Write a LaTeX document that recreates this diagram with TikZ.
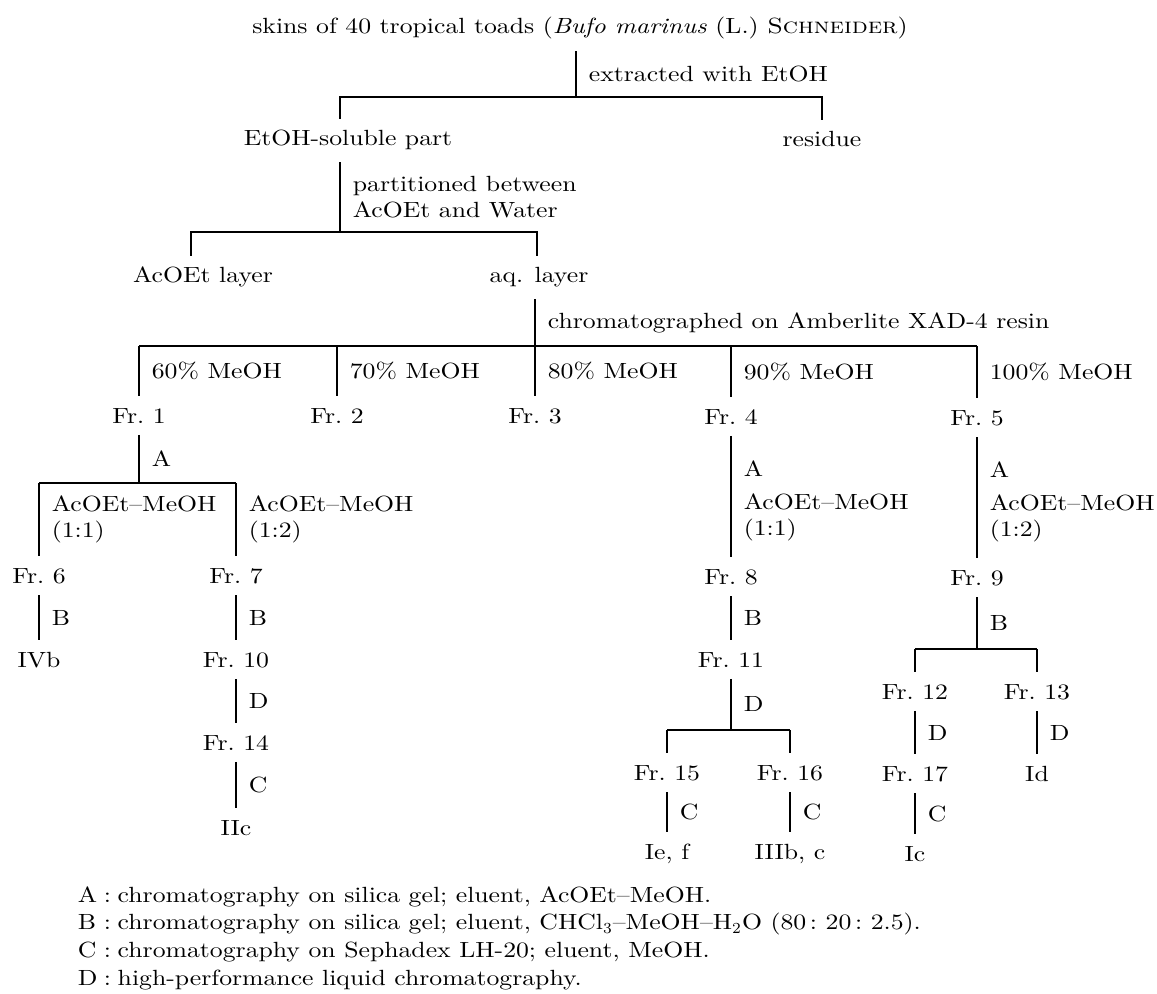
\documentclass[tikz,border=0pt]{standalone}
\usepackage{fontspec}
\setmainfont{lmroman10-regular.otf}[
    FakeStretch=1.17,
    ItalicFont=lmroman10-italic.otf,
    BoldFont=lmroman10-bold.otf,
    SmallCapsFont=lmromancaps10-regular.otf]
\begin{document}
\begin{tikzpicture}[x=0.455pt, y=-0.455pt, line width=0.7pt,
        every node/.style={inner xsep=0pt, inner ysep=5pt},
        txt/.style={anchor=base},
        lab/.style={anchor=west, xshift=5.5pt, inner ysep=0pt, align=left}] %Separación de las pieles
            \useasboundingbox (0,0) rectangle (1157,994);

            \node[txt] (title) at (580,34) {skins of 40 tropical toads (\textit{Bufo marinus} (L.) \textsc{Schneider})};
            \node[txt] (etoh) at (348,146) {EtOH-soluble part};
            \node[txt] (residue) at (822,147) {residue};
            \node[txt] (acoet) at (203,283) {AcOEt layer};
            \node[txt] (aq) at (539,283) {aq. layer};

            \node[txt] (fr1) at (139,423) {Fr.\ 1};
            \node[txt] (fr2) at (337,423) {Fr.\ 2};
            \node[txt] (fr3) at (535,423) {Fr.\ 3};
            \node[txt] (fr4) at (731,424) {Fr.\ 4};
            \node[txt] (fr5) at (977,425) {Fr.\ 5};
            \node[txt] (fr6) at (39,583) {Fr.\ 6};
            \node[txt] (fr7) at (236,583) {Fr.\ 7};
            \node[txt] (fr8) at (731,584) {Fr.\ 8};
            \node[txt] (fr9) at (977,585) {Fr.\ 9};
            \node[txt] (ivb) at (39,667) {IVb};
            \node[txt] (fr10) at (236,667) {Fr.\ 10};
            \node[txt] (fr11) at (731,667) {Fr.\ 11};
            \node[txt] (fr12) at (915,699) {Fr.\ 12};
            \node[txt] (fr13) at (1037,699) {Fr.\ 13};
            \node[txt] (fr14) at (236,750) {Fr.\ 14};
            \node[txt] (fr15) at (667,780) {Fr.\ 15};
            \node[txt] (fr16) at (790,780) {Fr.\ 16};
            \node[txt] (fr17) at (915,781) {Fr.\ 17};
            \node[txt] (id) at (1037,781) {Id};
            \node[txt] (iic) at (236,835) {IIc};
            \node[txt] (ief) at (667,859) {Ie, f};
            \node[txt] (iiibc) at (790,859) {IIIb, c};
            \node[txt] (ic) at (915,861) {Ic};

            \coordinate (j1) at (576,97);
            \coordinate (l1) at (340,97);
            \coordinate (r1) at (822,97);
            \draw (title.south -| j1) -- node[lab]{extracted with EtOH} (j1);
            \draw (l1 |- etoh.north) -- (l1) -- (r1) -- (r1 |- residue.north);

            \coordinate (j2) at (340,232);
            \coordinate (l2) at (191,232);
            \coordinate (r2) at (537,232);
            \draw (etoh.south -| j2) -- node[lab]{partitioned between\\AcOEt and Water} (j2);
            \draw (l2 |- acoet.north) -- (l2) -- (r2) -- (r2 |- aq.north);

            \coordinate (j3) at (535,346);
            \draw (aq.south -| j3) -- node[lab]{chromatographed on Amberlite XAD-4 resin} (j3);
            \draw (fr1.north |- j3) -- (fr5.north |- j3);
            \draw (fr1.north |- j3) -- node[lab]{60\% MeOH} (fr1.north);
            \draw (fr2.north |- j3) -- node[lab]{70\% MeOH} (fr2.north);
            \draw (fr3.north |- j3) -- node[lab]{80\% MeOH} (fr3.north);
            \draw (fr4.north |- j3) -- node[lab]{90\% MeOH} (fr4.north);
            \draw (fr5.north |- j3) -- node[lab]{100\% MeOH} (fr5.north);

            \coordinate (j4) at (139,483);
            \draw (fr1) -- node[lab]{A} (j4);
            \draw (fr6.north |- j4) -- (fr7.north |- j4);
            \draw (fr6.north |- j4) -- node[lab]{AcOEt--MeOH\\(1:1)} (fr6.north);
            \draw (fr7.north |- j4) -- node[lab]{AcOEt--MeOH\\(1:2)} (fr7.north);
            \draw (fr6) -- node[lab]{B} (ivb);
            \draw (fr7) -- node[lab]{B} (fr10);
            \draw (fr10) -- node[lab]{D} (fr14);
            \draw (fr14) -- node[lab]{C} (iic);

            \draw (fr4) -- node[lab, pos=0.27]{A} node[lab, pos=0.67]{AcOEt--MeOH\\(1:1)} (fr8);
            \draw (fr8) -- node[lab]{B} (fr11);
            \coordinate (j5) at (731,730);
            \draw (fr11) -- node[lab]{D} (j5);
            \draw (fr15.north |- j5) -- (fr16.north |- j5);
            \draw (fr15.north |- j5) -- (fr15.north);
            \draw (fr16.north |- j5) -- (fr16.north);
            \draw (fr15) -- node[lab]{C} (ief);
            \draw (fr16) -- node[lab]{C} (iiibc);

            \draw (fr5) -- node[lab, pos=0.27]{A} node[lab, pos=0.67]{AcOEt--MeOH\\(1:2)} (fr9);
            \coordinate (j6) at (977,649);
            \draw (fr9) -- node[lab]{B} (j6);
            \draw (fr12.north |- j6) -- (fr13.north |- j6);
            \draw (fr12.north |- j6) -- (fr12.north);
            \draw (fr13.north |- j6) -- (fr13.north);
            \draw (fr12) -- node[lab]{D} (fr17);
            \draw (fr17) -- node[lab]{C} (ic);
            \draw (fr13) -- node[lab]{D} (id);

            \node[anchor=base west, inner ysep=0pt] (key) at (77,902) {\renewcommand{\arraystretch}{1.06}%
                \begin{tabular}[t]{@{}l@{\hspace{3pt}:\hspace{3pt}}l@{}}
                A & chromatography on silica gel; eluent, AcOEt--MeOH.\\
                B & chromatography on silica gel; eluent, CHCl$_3$--MeOH--H$_2$O (80\,:\ 20\,:\ 2.5).\\
                C & chromatography on Sephadex LH-20; eluent, MeOH.\\
                D & high-performance liquid chromatography.
                \end{tabular}};
        \end{tikzpicture}
\end{document}
